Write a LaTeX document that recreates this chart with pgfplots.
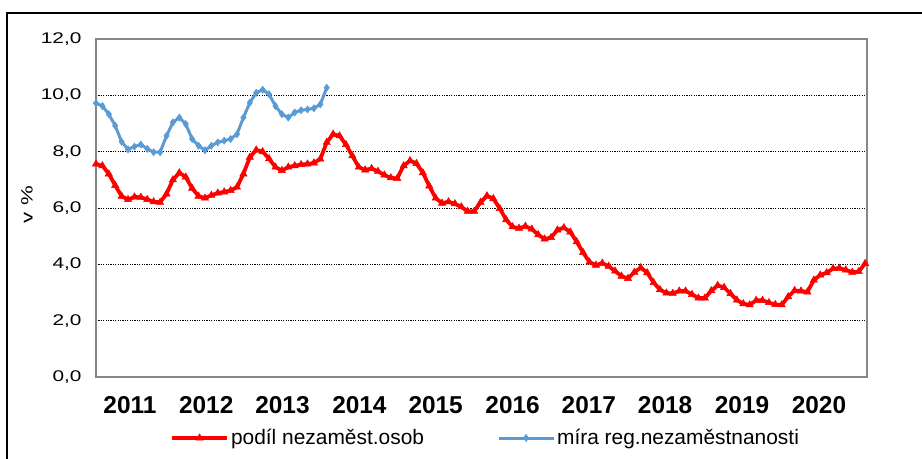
\documentclass[border=0pt]{standalone}
\usepackage{fontspec}
\setmainfont{Liberation Sans}
\newfontfamily\tickfont[FakeStretch=1.35]{Liberation Sans}
\usepackage{pgfplots}
\pgfplotsset{compat=1.18}
\definecolor{xlred}{RGB}{255,0,0}
\definecolor{xlblue}{RGB}{91,155,213}
\definecolor{axgray}{RGB}{134,134,134}

\pgfplotstableread{
i v
0 7.56
1 7.50
2 7.21
3 6.80
4 6.42
5 6.30
6 6.39
7 6.38
8 6.30
9 6.22
10 6.20
11 6.50
12 7.00
13 7.25
14 7.10
15 6.70
16 6.42
17 6.35
18 6.45
19 6.53
20 6.57
21 6.62
22 6.74
23 7.21
24 7.80
25 8.06
26 8.00
27 7.75
28 7.45
29 7.33
30 7.45
31 7.50
32 7.54
33 7.56
34 7.60
35 7.74
36 8.33
37 8.62
38 8.56
39 8.25
40 7.85
41 7.45
42 7.35
43 7.40
44 7.30
45 7.17
46 7.07
47 7.05
48 7.50
49 7.68
50 7.58
51 7.25
52 6.78
53 6.35
54 6.17
55 6.22
56 6.15
57 6.04
58 5.88
59 5.88
60 6.20
61 6.43
62 6.33
63 5.98
64 5.58
65 5.33
66 5.28
67 5.35
68 5.25
69 5.05
70 4.90
71 4.95
72 5.22
73 5.30
74 5.15
75 4.80
76 4.42
77 4.08
78 3.97
79 4.04
80 3.93
81 3.76
82 3.58
83 3.50
84 3.72
85 3.88
86 3.70
87 3.35
88 3.10
89 2.98
90 2.97
91 3.05
92 3.05
93 2.93
94 2.80
95 2.80
96 3.06
97 3.25
98 3.18
99 2.96
100 2.73
101 2.60
102 2.56
103 2.72
104 2.72
105 2.64
106 2.57
107 2.56
108 2.85
109 3.07
110 3.05
111 3.02
112 3.44
113 3.62
114 3.70
115 3.85
116 3.86
117 3.80
118 3.72
119 3.74
120 4.03
}\redtab

\pgfplotstableread{
i v
0 9.72
1 9.62
2 9.33
3 8.92
4 8.35
5 8.08
6 8.18
7 8.25
8 8.10
9 7.98
10 7.98
11 8.56
12 9.04
13 9.21
14 8.98
15 8.45
16 8.21
17 8.05
18 8.21
19 8.33
20 8.39
21 8.45
22 8.62
23 9.21
24 9.74
25 10.09
26 10.20
27 10.04
28 9.62
29 9.33
30 9.21
31 9.39
32 9.47
33 9.50
34 9.54
35 9.68
36 10.27
}\bluetab

\begin{document}
\begin{tikzpicture}[x=1bp,y=1bp]
\path[use as bounding box] (0,0) rectangle (922,459);
\draw[black, line width=1.5bp] (7,0) -- (7,446) -- (922,446);
\begin{axis}[
  at={(96bp,82bp)}, anchor=south west,
  width=771bp, height=338bp, scale only axis,
  xmin=0, xmax=120.3, ymin=0, ymax=12,
  axis line style={axgray, line width=2.5bp},
  ytick={0,2,4,6,8,10,12},
  yticklabels={{0,0},{2,0},{4,0},{6,0},{8,0},{10,0},{12,0}},
  yticklabel style={font=\tickfont\fontsize{15.5}{17}\selectfont, xshift=-11bp},
  ymajorgrids,
  grid style={black, line width=0.8bp, dash pattern=on 1.2bp off 1.2bp},
  major tick length=0,
  xtick={5.3,17.2,29.1,41.1,53.0,65.0,76.9,88.8,100.8,112.8},
  xticklabels={2011,2012,2013,2014,2015,2016,2017,2018,2019,2020},
  xticklabel style={font=\bfseries\fontsize{24.5}{27}\selectfont, yshift=-16bp},
  ylabel={v \%},
  ylabel style={font=\tickfont\fontsize{16.5}{18}\selectfont, at={(axis description cs:-0.0895,0.51)}, anchor=center},
  legend columns=2,
  legend style={at={(rel axis cs:0.0960,-0.1805)}, anchor=west, draw=none, fill=none,
    inner sep=0bp, font=\fontsize{21}{23}\selectfont,
    nodes={inner sep=2bp},
    /tikz/every even column/.append style={column sep=71bp}},
  legend image code/.code={\draw[mark repeat=2, mark phase=2, #1] plot coordinates {(0bp,0bp) (27.5bp,0bp) (55bp,0bp)};},
]
\addplot[xlred, line width=3.8bp, mark=triangle*, mark size=4.2bp, mark options={solid, fill=xlred, line width=0.5bp}] table[x=i, y=v] {\redtab};
\addlegendentry{podíl nezaměst.osob}
\addplot[xlblue, line width=3bp, mark=diamond*, mark size=3.6bp, mark options={solid, fill=xlblue, line width=0.5bp}] table[x=i, y=v] {\bluetab};
\addlegendentry{míra reg.nezaměstnanosti}
\end{axis}
\end{tikzpicture}
\end{document}
